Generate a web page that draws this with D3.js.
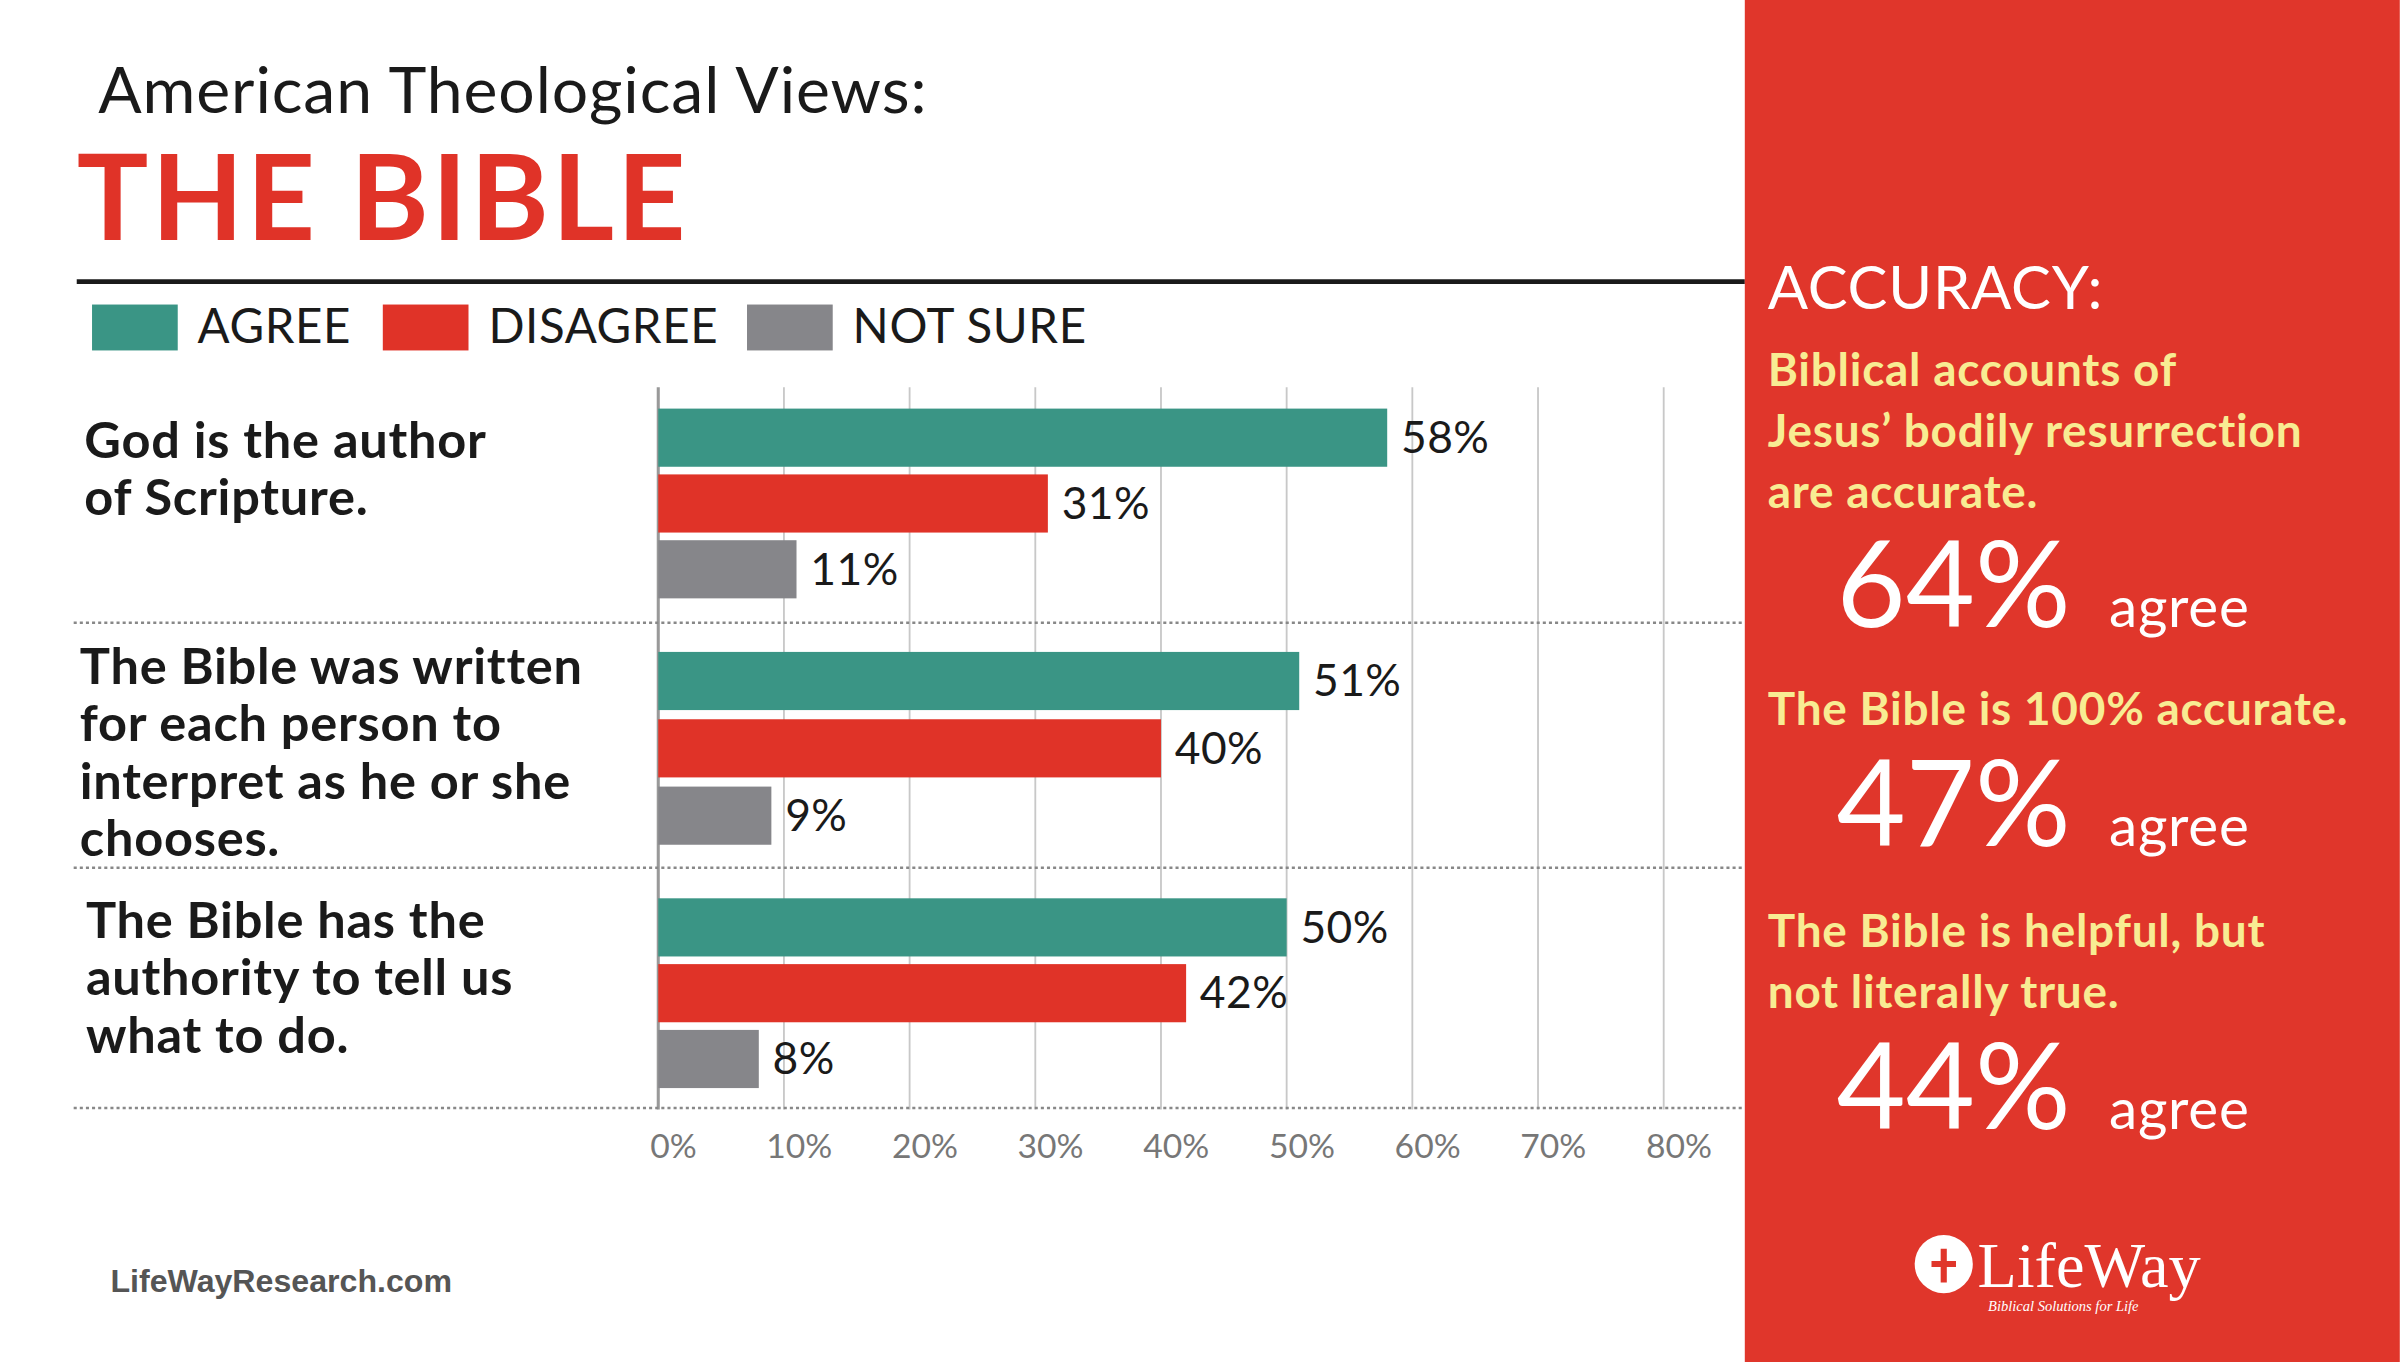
<!DOCTYPE html>
<html>
<head>
<meta charset="utf-8">
<script src="https://cdn.jsdelivr.net/npm/d3@7"></script>
<style>
body{margin:0;background:#fff;}
svg{display:block;font-family:Lato,"Open Sans",sans-serif;}
</style>
</head>
<body>
<script>
// chart values
var categories = [
  ["God is the author", "of Scripture."],
  ["The Bible was written", "for each person to", "interpret as he or she", "chooses."],
  ["The Bible has the", "authority to tell us", "what to do."]
];
var agree = [58, 51, 50];
var disagree = [31, 40, 42];
var notSure = [11, 9, 8];
var seriesNames = ["AGREE", "DISAGREE", "NOT SURE"];
var ticks = [0, 10, 20, 30, 40, 50, 60, 70, 80];

// right panel
var statText = [
  ["Biblical accounts of", "Jesus\u2019 bodily resurrection", "are accurate."],
  ["The Bible is 100% accurate."],
  ["The Bible is helpful, but", "not literally true."]
];
var statValues = [64, 47, 44];

var colors = ["#3a9585", "#e03328", "#86868a"];
var panelRed = "#e0362b";

var svg = d3.select("body").append("svg")
  .attr("width", 2400).attr("height", 1362)
  .attr("viewBox", "0 0 1568 890");

// titles
svg.append("text").attr("x", 64).attr("y", 74).attr("font-size", 42).attr("letter-spacing", 0.6)
  .attr("fill", "#1a1a1a").text("American Theological Views:");
svg.append("text").attr("x", 50).attr("y", 157).attr("font-size", 78).attr("letter-spacing", 2)
  .attr("font-weight", 700).attr("fill", "#e03328").text("THE BIBLE");
svg.append("line").attr("x1", 50).attr("x2", 1140).attr("y1", 184).attr("y2", 184)
  .attr("stroke", "#1a1a1a").attr("stroke-width", 3);

// legend
var legX = [60, 250, 488];
seriesNames.forEach(function(n, i){
  svg.append("rect").attr("x", legX[i]).attr("y", 199).attr("width", 56).attr("height", 30)
    .attr("fill", colors[i]);
  svg.append("text").attr("x", legX[i] + 69).attr("y", 224).attr("font-size", 31)
    .attr("letter-spacing", 0.4).attr("fill", "#1a1a1a").text(n);
});

// scales
var x = d3.scaleLinear().domain([0, 80]).range([430, 1087]);
var tops = [267, 426, 587];

// grid
svg.selectAll(".grid").data(ticks).enter().append("line")
  .attr("x1", function(d){ return x(d); }).attr("x2", function(d){ return x(d); })
  .attr("y1", 253).attr("y2", 725)
  .attr("stroke", function(d){ return d == 0 ? "#999" : "#c8c8c8"; })
  .attr("stroke-width", function(d){ return d == 0 ? 2 : 1.2; });

// separators
[407, 567, 724].forEach(function(y){
  svg.append("line").attr("x1", 48).attr("x2", 1140).attr("y1", y).attr("y2", y)
    .attr("stroke", "#888").attr("stroke-width", 1.6).attr("stroke-dasharray", "2,2");
});

// axis labels
svg.selectAll(".tick").data(ticks).enter().append("text")
  .attr("x", function(d){ return x(d) + 10; }).attr("y", 757)
  .attr("text-anchor", "middle").attr("font-size", 22).attr("fill", "#777")
  .text(function(d){ return d + "%"; });

// bars
var series = [agree, disagree, notSure];
var barH = 38, step = [43, 44, 43];
categories.forEach(function(c, g){
  series.forEach(function(s, i){
    var y0 = tops[g] + i * step[g];
    svg.append("rect").attr("x", x(0)).attr("y", y0)
      .attr("width", x(s[g]) - x(0)).attr("height", barH).attr("fill", colors[i]);
    svg.append("text").attr("x", x(s[g]) + 9).attr("y", y0 + 29)
      .attr("font-size", 29).attr("letter-spacing", 0.3).attr("fill", "#1a1a1a").text(s[g] + "%");
  });
  var t = svg.append("text").attr("font-size", 33).attr("letter-spacing", 0.5)
    .attr("font-weight", 700).attr("fill", "#1a1a1a");
  var ly = [299, 447, 613][g], lx = [55, 52, 56][g];
  c.forEach(function(line, k){
    t.append("tspan").attr("x", lx).attr("y", ly + k * 37.5).text(line);
  });
});

svg.append("text").attr("x", 72).attr("y", 844).attr("font-size", 21).attr("font-weight", 700)
  .attr("font-family", "'Liberation Sans',Arial,sans-serif").attr("fill", "#555").text("LifeWayResearch.com");

// right panel
svg.append("rect").attr("x", 1140).attr("y", 0).attr("width", 428).attr("height", 890).attr("fill", panelRed);
svg.append("text").attr("x", 1155).attr("y", 202).attr("font-size", 39).attr("letter-spacing", 0.5)
  .attr("fill", "#fff").text("ACCURACY:");
var textTops = [252, 474, 619];
var numY = [410, 553, 738];
statText.forEach(function(lines, i){
  lines.forEach(function(l, k){
    svg.append("text").attr("x", 1155).attr("y", textTops[i] + k * 40).attr("font-size", 30)
      .attr("letter-spacing", 0.5).attr("font-weight", 700).attr("fill", "#f8ec93").text(l);
  });
  svg.append("text").attr("x", 1200).attr("y", numY[i]).attr("font-size", 78)
    .attr("fill", "#fff").text(statValues[i] + "%");
  svg.append("text").attr("x", 1378).attr("y", numY[i]).attr("font-size", 37).attr("letter-spacing", 0.5)
    .attr("fill", "#fff").text("agree");
});

// logo
svg.append("circle").attr("cx", 1270).attr("cy", 826).attr("r", 19).attr("fill", "#fff");
svg.append("path").attr("d", "M1262 826 h16 M1270 816 v22").attr("stroke", panelRed).attr("stroke-width", 4);
svg.append("text").attr("x", 1292).attr("y", 841).attr("font-size", 42)
  .attr("font-family", "'Liberation Serif',serif").attr("fill", "#fff").text("LifeWay");
svg.append("text").attr("x", 1299).attr("y", 857).attr("font-size", 9.5).attr("font-style", "italic")
  .attr("font-family", "'Liberation Serif',serif").attr("fill", "#fff").text("Biblical Solutions for Life");
</script>
</body>
</html>
